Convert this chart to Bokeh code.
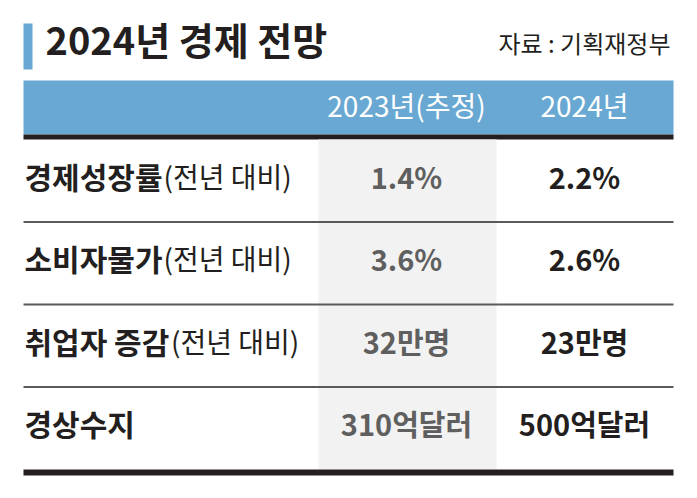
from bokeh.plotting import figure
from bokeh.models import Range1d, ColumnDataSource
from bokeh.core.properties import value
from bokeh.embed import file_html
from bokeh.resources import INLINE

# ---- data ----
title = "2024년 경제 전망"
source_note = "자료 : 기획재정부"
columns = ["2023년(추정)", "2024년"]
row_labels = ["경제성장률", "소비자물가", "취업자 증감", "경상수지"]
row_notes = ["(전년 대비)", "(전년 대비)", "(전년 대비)", ""]
values_2023 = ["1.4%", "3.6%", "32만명", "310억달러"]
values_2024 = ["2.2%", "2.6%", "23만명", "500억달러"]

# ---- style / layout ----
FONT = value("Noto Sans CJK KR")
BLUE = "#68a8d2"
DARK = "#231f20"
GRAY_BG = "#f2f2f2"
GRAY_TXT = "#5f5f5f"
LINE_GRAY = "#5a5a5a"

L, R = 23, 673
band_top, band_bot = 80, 134
rows_top = 139
row_h = 82.5
col_centers = [406, 584]
gray_left, gray_right = 318, 496
label_x = 24
label_fs = 30
note_fs = 28
value_fs = 29
text_dy = -5

n = len(row_labels)
rows_bot = rows_top + n * row_h

p = figure(width=681, height=482, x_range=Range1d(0, 681), y_range=Range1d(482, 0),
           output_backend="svg", toolbar_location=None, min_border=0)
p.axis.visible = False
p.grid.visible = False
p.outline_line_color = None
p.background_fill_color = "white"
p.border_fill_color = "white"

# accent bar
p.quad(left=[23], right=[32], top=[23], bottom=[69], fill_color=BLUE, line_color=None)
# title and source
p.text(x=[45], y=[38], text=[title], text_font=FONT, text_font_style="bold",
       text_font_size="38px", text_color=DARK, text_baseline="middle", text_align="left")
p.text(x=[670], y=[42], text=[source_note], text_font=FONT, text_font_size="24px",
       text_color=DARK, text_baseline="middle", text_align="right")

# header band
p.quad(left=[L], right=[R], top=[band_top], bottom=[band_bot], fill_color=BLUE, line_color=None)
p.quad(left=[L], right=[R], top=[band_bot], bottom=[rows_top], fill_color=DARK, line_color=None)
p.text(x=col_centers, y=[104] * 2, text=columns, text_font=FONT,
       text_font_size="28px", text_color="white", text_baseline="middle", text_align="center")

# gray column
p.quad(left=[gray_left], right=[gray_right], top=[rows_top], bottom=[rows_bot],
       fill_color=GRAY_BG, line_color=None)

# row separators
seps = [rows_top + (i + 1) * row_h for i in range(n - 1)]
p.segment(x0=[L] * len(seps), x1=[R] * len(seps), y0=seps, y1=seps,
          line_color=LINE_GRAY, line_width=2)
# bottom rule
p.quad(left=[L], right=[R], top=[rows_bot], bottom=[rows_bot + 6], fill_color=DARK, line_color=None)

# row text
centers = [rows_top + (i + 0.5) * row_h + text_dy for i in range(n)]

def label_width(s, fs):
    w = 0
    for ch in s:
        w += 0.25 * fs if ch == " " else 0.92 * fs
    return w

note_x = [label_x + label_width(s, label_fs) + 1 for s in row_labels]

p.text(x=[label_x] * n, y=centers, text=row_labels, text_font=FONT, text_font_style="bold",
       text_font_size=f"{label_fs}px", text_color=DARK, text_baseline="middle", text_align="left")
p.text(x=note_x, y=centers, text=row_notes, text_font=FONT,
       text_font_size=f"{note_fs}px", text_color=DARK, text_baseline="middle", text_align="left")

src = ColumnDataSource(dict(y=centers, v23=values_2023, v24=values_2024))
p.text(x=col_centers[0], y="y", text="v23", source=src, text_font=FONT, text_font_style="bold",
       text_font_size=f"{value_fs}px", text_color=GRAY_TXT, text_baseline="middle", text_align="center")
p.text(x=col_centers[1], y="y", text="v24", source=src, text_font=FONT, text_font_style="bold",
       text_font_size=f"{value_fs}px", text_color=DARK, text_baseline="middle", text_align="center")

open("out.html", "w").write(file_html(p, INLINE))
